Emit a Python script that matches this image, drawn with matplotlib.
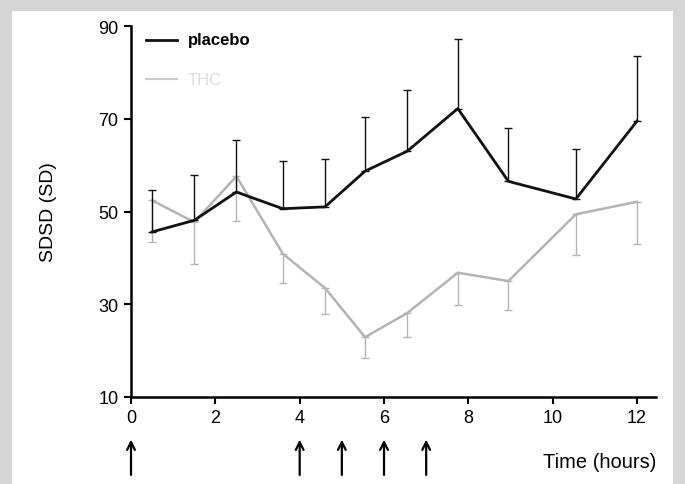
import numpy as np
import matplotlib.pyplot as plt

plt.rcParams['font.family'] = ['Liberation Sans', 'DejaVu Sans']

# time points (hours) and group means / SD
t_placebo = [0.5, 1.5, 2.5, 3.6, 4.6, 5.55, 6.55, 7.75, 8.95, 10.55, 12.0]
placebo = [45.6, 48.1, 54.2, 50.6, 51.0, 58.7, 63.0, 72.2, 56.5, 52.7, 69.5]
placebo_sd = [9.1, 9.7, 11.3, 10.3, 10.4, 11.7, 13.2, 14.9, 11.6, 10.7, 14.0]

t_thc = [0.5, 1.5, 2.5, 3.6, 4.6, 5.55, 6.55, 7.75, 8.95, 10.55, 12.0]
thc = [52.4, 47.7, 57.6, 40.9, 33.5, 22.9, 28.1, 36.8, 35.0, 49.4, 52.1]
thc_sd = [8.9, 9.1, 9.7, 6.3, 5.6, 4.5, 5.1, 6.9, 6.2, 8.7, 9.2]

dose_times = [0, 4, 5, 6, 7]

fig = plt.figure(figsize=(6.85, 4.85), dpi=100)
fig.patch.set_facecolor('#d6d6d6')

# white panel behind the plot
bg = fig.add_axes([12/685, 0, 661/685, 473/485], zorder=0)
bg.set_facecolor('white')
bg.set_xticks([])
bg.set_yticks([])
for s in bg.spines.values():
    s.set_visible(False)

ax = fig.add_axes([131/685, 87/485, 525/685, 371/485], zorder=1)
ax.patch.set_alpha(0)

gray = '#b4b4b4'
# THC: line plus downward SD bars
ax.errorbar(t_thc, thc, yerr=[thc_sd, np.zeros(len(thc_sd))], color=gray, lw=1.8,
            elinewidth=1.0, capsize=3, capthick=1.0, label='THC', zorder=2)
# placebo: line plus upward SD bars
ax.errorbar(t_placebo, placebo, yerr=[np.zeros(len(placebo_sd)), placebo_sd], color='#111111',
            lw=2.0, elinewidth=1.0, capsize=3, capthick=1.0, label='placebo', zorder=3)

ax.set_xlim(0, 12.45)
ax.set_ylim(10, 90)
ax.set_xticks([0, 2, 4, 6, 8, 10, 12])
ax.set_yticks([10, 30, 50, 70, 90])
ax.spines['top'].set_visible(False)
ax.spines['right'].set_visible(False)
for s in ['left', 'bottom']:
    ax.spines[s].set_linewidth(1.8)
ax.tick_params(direction='out', length=5, width=1.5, labelsize=13, pad=4)
ax.set_ylabel('SDSD (SD)', fontsize=14, labelpad=30)

# legend drawn by hand
ax.plot([0.35, 1.1], [87, 87], color='#111111', lw=2.0, clip_on=False)
ax.text(1.35, 87, 'placebo', fontsize=12, fontweight='bold', va='center')
ax.plot([0.35, 1.1], [78.5, 78.5], color='#cccccc', lw=1.5, clip_on=False)
ax.text(1.35, 78.5, 'THC', fontsize=12, color='#dddddd', va='center')

# dosing arrows below the time axis
for d in dose_times:
    ax.annotate('', xy=(d, 1.4), xytext=(d, -7.4), xycoords='data',
                arrowprops=dict(arrowstyle='->', lw=1.6, color='black',
                                mutation_scale=14), annotation_clip=False)
ax.text(12.45, -4.0, 'Time (hours)', fontsize=14.5, ha='right', va='center')

fig.savefig('out.png', dpi=100)
